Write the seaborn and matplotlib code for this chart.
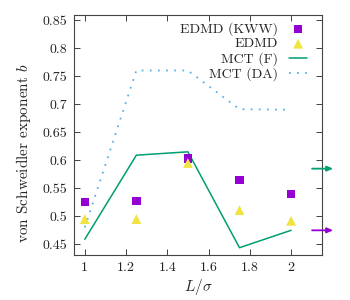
import numpy as np
import pandas as pd
import matplotlib
matplotlib.use("Agg")
import matplotlib.pyplot as plt
import seaborn as sns

# --- data ---
L = [1.0, 1.25, 1.5, 1.75, 2.0]
b_kww = [0.525, 0.527, 0.603, 0.565, 0.540]
b_edmd = [0.495, 0.495, 0.595, 0.511, 0.492]
b_mct_f = [0.459, 0.609, 0.615, 0.444, 0.475]
b_mct_da = [0.480, 0.760, 0.760, 0.691, 0.690]
arrow_y = [0.585, 0.475]   # bulk values marked on right edge
arrow_col = ["#009e73", "#9400d3"]

df = pd.DataFrame({"L": L, "kww": b_kww, "edmd": b_edmd,
                   "mct_f": b_mct_f, "mct_da": b_mct_da})

sns.set_style("ticks")
plt.rcParams["font.family"] = ["serif"]
plt.rcParams["font.serif"] = ["cmr10", "DejaVu Serif"]
plt.rcParams["mathtext.fontset"] = "cm"
plt.rcParams["axes.formatter.use_mathtext"] = True

fig = plt.figure(figsize=(3.5, 3.0), dpi=100)
ax = fig.add_axes([0.211, 0.15, 0.709, 0.80])

sns.scatterplot(data=df, x="L", y="kww", ax=ax, marker="s", s=36,
                color="#9400d3", edgecolor="none", label="EDMD (KWW)", zorder=3)
sns.scatterplot(data=df, x="L", y="edmd", ax=ax, marker="^", s=50,
                color="#f0e442", edgecolor="none", label="EDMD", zorder=3)
sns.lineplot(data=df, x="L", y="mct_f", ax=ax, color="#009e73", lw=1.1,
             label="MCT (F)")
sns.lineplot(data=df, x="L", y="mct_da", ax=ax, color="#56b4e9", lw=1.3,
             linestyle=(0, (1, 3.5)), label="MCT (DA)")

for y, c in zip(arrow_y, arrow_col):
    ax.annotate("", xy=(1.045, y), xytext=(0.96, y),
                xycoords=("axes fraction", "data"),
                textcoords=("axes fraction", "data"),
                arrowprops=dict(arrowstyle="-|>,head_length=0.35,head_width=0.15",
                                color=c, lw=1.3, shrinkA=0, shrinkB=0),
                annotation_clip=False)

ax.set_xlim(0.947, 2.15)
ax.set_ylim(0.431, 0.859)
ax.set_xticks([1, 1.2, 1.4, 1.6, 1.8, 2])
ax.set_xticklabels(["1", "1.2", "1.4", "1.6", "1.8", "2"])
ax.set_yticks([0.45, 0.5, 0.55, 0.6, 0.65, 0.7, 0.75, 0.8, 0.85])
ax.set_yticklabels(["0.45", "0.5", "0.55", "0.6", "0.65", "0.7", "0.75", "0.8", "0.85"])
ax.tick_params(direction="in", top=True, right=True, length=4, width=0.6,
               labelsize=10, colors="#222222", pad=5)
for sp in ax.spines.values():
    sp.set_linewidth(0.8)
    sp.set_color("#444444")

ax.set_xlabel(r"$L/\sigma$", fontsize=11, labelpad=2)
ax.set_ylabel(r"von Schweidler exponent $b$", fontsize=11)
ax.yaxis.set_label_coords(-0.165, 0.425)

leg = ax.legend(loc="upper right", bbox_to_anchor=(0.94, 0.97), frameon=False,
                markerfirst=False, fontsize=10, handlelength=1.3,
                handletextpad=0.8, labelspacing=0.12, borderaxespad=0,
                borderpad=0)

fig.savefig("out.png", dpi=100)
